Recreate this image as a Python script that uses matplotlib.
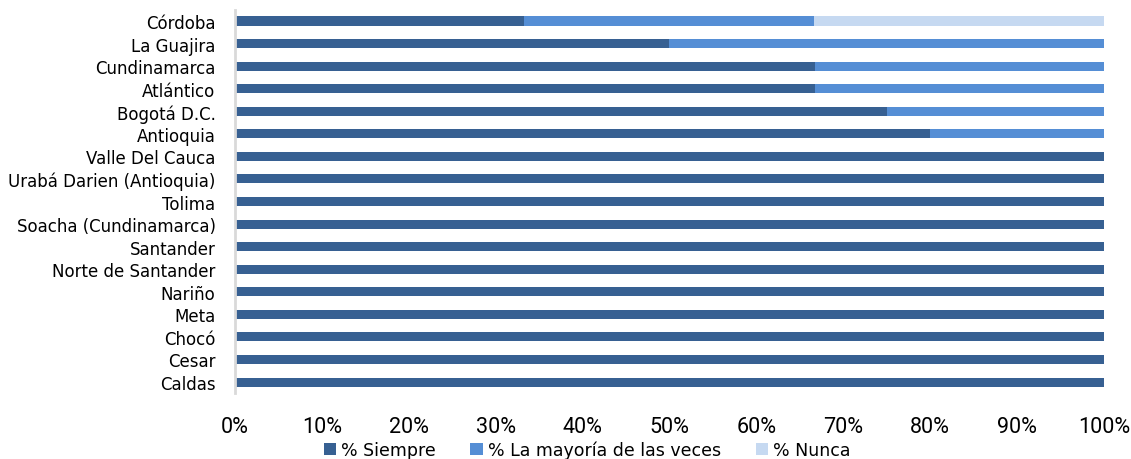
import matplotlib

matplotlib.use("Agg")
import matplotlib.pyplot as plt
import numpy as np

# Departments, top to bottom as listed
departamentos = [
    "Córdoba", "La Guajira", "Cundinamarca", "Atlántico", "Bogotá D.C.",
    "Antioquia", "Valle Del Cauca", "Urabá Darien (Antioquia)", "Tolima",
    "Soacha (Cundinamarca)", "Santander", "Norte de Santander", "Nariño",
    "Meta", "Chocó", "Cesar", "Caldas",
]
siempre = [33.3, 50.0, 66.7, 66.7, 75.0, 80.0, 100, 100, 100, 100, 100, 100, 100, 100, 100, 100, 100]
mayoria = [33.3, 50.0, 33.3, 33.3, 25.0, 20.0, 0, 0, 0, 0, 0, 0, 0, 0, 0, 0, 0]
nunca = [33.4, 0, 0, 0, 0, 0, 0, 0, 0, 0, 0, 0, 0, 0, 0, 0, 0]
series_labels = ["% Siempre", "% La mayoría de las veces", "% Nunca"]
x_ticks = [0, 10, 20, 30, 40, 50, 60, 70, 80, 90, 100]

COLORS = ["#376092", "#558ED5", "#C6D9F1"]

fig = plt.figure(figsize=(11.31, 4.6), dpi=100)
ax = fig.add_axes([0.2078, 0.1428, 0.7682, 0.8339])

y = np.arange(len(departamentos))[::-1]
left = np.zeros(len(departamentos))
for vals, color, label in zip([siempre, mayoria, nunca], COLORS, series_labels):
    vals = np.array(vals)
    ax.barh(y, vals, left=left, height=0.4, color=color, label=label)
    left += vals

ax.set_xlim(0, 100)
ax.set_ylim(-0.5, len(departamentos) - 0.5)
ax.set_yticks(y)
ax.set_yticklabels(departamentos, fontsize=12, family="DejaVu Sans")
ax.set_xticks(x_ticks)
ax.set_xticklabels(["%d%%" % t for t in x_ticks], fontsize=15.5, family="Roboto")
ax.tick_params(length=0)
ax.tick_params(axis="x", pad=16)
ax.tick_params(axis="y", pad=14)

for side in ["top", "right", "bottom"]:
    ax.spines[side].set_visible(False)
ax.spines["left"].set_color("#D9D9D9")
ax.spines["left"].set_linewidth(2)

handles, labels = ax.get_legend_handles_labels()
fig.legend(handles, labels, loc="center", bbox_to_anchor=(587 / 1131, 1 - 451 / 460),
           ncol=3, frameon=False, fontsize=12.5, handlelength=0.7, handleheight=0.7,
           handletextpad=0.3, columnspacing=2.0, borderaxespad=0, borderpad=0)

fig.savefig("out.png", dpi=100)
